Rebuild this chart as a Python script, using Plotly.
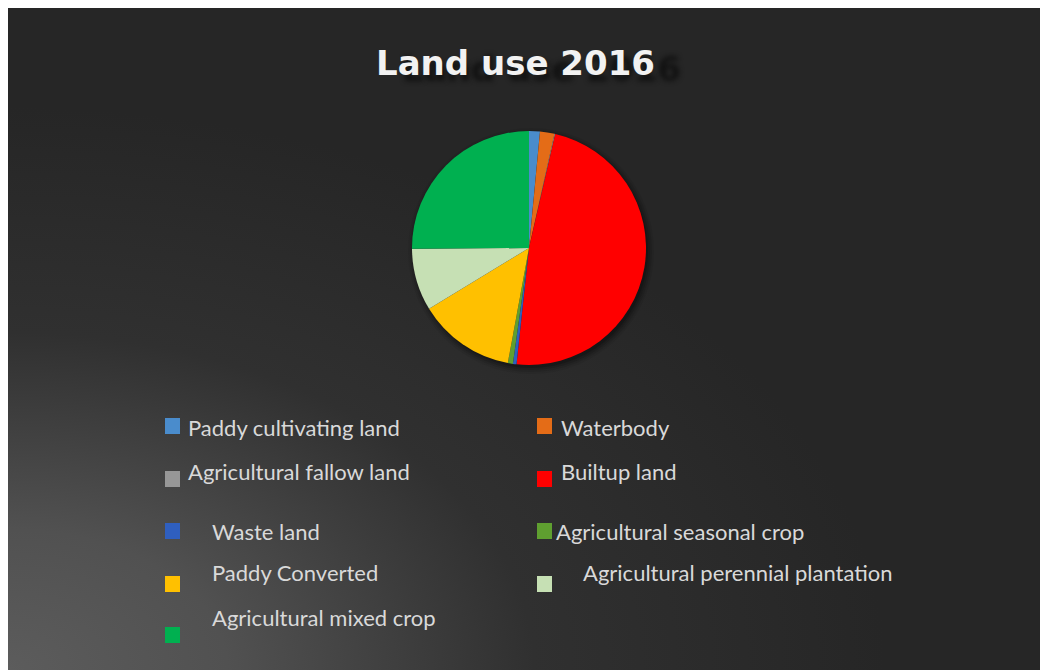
import base64
import plotly.graph_objects as go

# Land use shares for 2016 (percent), in slice order starting at 12 o'clock
categories = [
    "Paddy cultivating land",
    "Waterbody",
    "Agricultural fallow land",
    "Builtup land",
    "Waste land",
    "Agricultural seasonal crop",
    "Paddy Converted",
    "Agricultural perennial plantation",
    "Agricultural mixed crop",
]
shares = [1.5, 2.0, 0.1, 48.1, 0.5, 0.7, 13.4, 8.6, 25.1]
colors = [
    "#4a8ccc", "#e46c17", "#979797", "#ff0000", "#2f5fbf",
    "#5f9f30", "#ffc000", "#c6e0b4", "#00b050",
]

W, H = 1040, 670
FRAME = 8  # white strip on the top and left edges

# Legend layout: (marker x, marker y centre, text x, text y centre) in pixels
legend_pos = [
    (165, 426, 186, 427),
    (537, 426, 559, 427),
    (165, 479, 186, 471),
    (537, 479, 559, 471),
    (165, 531, 210, 531),
    (537, 531, 554, 531),
    (165, 584, 210, 572),
    (537, 584, 581, 572),
    (165, 635, 210, 617),
]

def px(x):
    return x / W

def py(y):
    return 1 - y / H

# Dark backdrop with a soft light glow in the lower-left corner
svg = f"""<svg xmlns='http://www.w3.org/2000/svg' width='{W - FRAME}' height='{H - FRAME}'>
<defs><radialGradient id='g' cx='0' cy='1' r='0.85' fx='0' fy='1'>
<stop offset='0' stop-color='#5c5c5c'/><stop offset='0.25' stop-color='#515151'/>
<stop offset='0.6' stop-color='#303030'/><stop offset='1' stop-color='#262626'/>
</radialGradient></defs>
<rect width='100%' height='100%' fill='#262626'/>
<rect width='100%' height='100%' fill='url(#g)'/>
</svg>"""
bg_uri = "data:image/svg+xml;base64," + base64.b64encode(svg.encode()).decode()

cx, cy, r = 529, 248, 117

fig = go.Figure()
fig.add_trace(go.Pie(
    labels=categories,
    values=shares,
    sort=False,
    direction="clockwise",
    rotation=0,
    marker=dict(colors=colors, line=dict(width=0)),
    textinfo="none",
    hoverinfo="label+percent",
    showlegend=False,
    domain=dict(x=[px(cx - r), px(cx + r)], y=[py(cy + r), py(cy - r)]),
))

shapes = []
# soft drop shadow under the pie
for grow, op in [(6, 0.06), (4, 0.09), (2, 0.13), (0, 0.18)]:
    shapes.append(dict(
        type="circle", xref="paper", yref="paper", layer="below",
        x0=px(cx - r - grow + 2), x1=px(cx + r + grow + 2),
        y0=py(cy + r + grow + 3), y1=py(cy - r - grow + 3),
        fillcolor=f"rgba(0,0,0,{op})", line=dict(width=0),
    ))

annotations = [dict(
    text="<b>Land use 2016</b>", x=px(515), y=py(63), xref="paper", yref="paper",
    showarrow=False, xanchor="center", yanchor="middle",
    font=dict(family="DejaVu Sans", size=34, color="#f2f2f2",
              shadow="26px 6px 5px rgba(12,12,12,0.8)"),
)]

for name, col, (mx, my, tx, ty) in zip(categories, colors, legend_pos):
    shapes.append(dict(
        type="rect", xref="paper", yref="paper",
        x0=px(mx), x1=px(mx + 15), y0=py(my + 8), y1=py(my - 8),
        fillcolor=col, line=dict(width=0),
    ))
    annotations.append(dict(
        text=name, x=px(tx), y=py(ty), xref="paper", yref="paper",
        showarrow=False, xanchor="left", yanchor="middle",
        font=dict(family="Lato", size=22, color="#d9d9d9"),
    ))

fig.update_layout(
    width=W, height=H,
    margin=dict(l=0, r=0, t=0, b=0),
    paper_bgcolor="#ffffff",
    plot_bgcolor="rgba(0,0,0,0)",
    images=[dict(
        source=bg_uri, xref="paper", yref="paper",
        x=px(FRAME), y=py(FRAME), sizex=(W - FRAME) / W, sizey=(H - FRAME) / H,
        xanchor="left", yanchor="top", sizing="stretch", layer="below",
    )],
    shapes=shapes,
    annotations=annotations,
    xaxis=dict(visible=False), yaxis=dict(visible=False),
)

fig.write_html("out.html")
